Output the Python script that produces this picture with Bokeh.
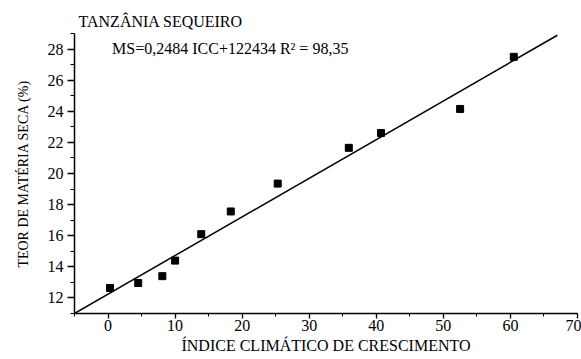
from bokeh.plotting import figure
from bokeh.models import Label, SingleIntervalTicker, Range1d
from bokeh.embed import file_html
from bokeh.resources import INLINE

icc = [0.3, 4.5, 8.1, 10.0, 13.9, 18.3, 25.3, 35.9, 40.7, 52.5, 60.5]
ms = [12.64, 12.96, 13.4, 14.4, 16.1, 17.56, 19.35, 21.65, 22.6, 24.15, 27.5]
slope = 0.2484
intercept = 12.2434
fit_x = [-5, 67]
fit_y = [intercept + slope * v for v in fit_x]

title_text = "TANZÂNIA SEQUEIRO"
eq_text = "MS=0,2484 ICC+122434 R² = 98,35"
x_label = "ÍNDICE CLIMÁTICO DE CRESCIMENTO"
y_label = "TEOR DE MATÉRIA SECA (%)"

FONT = "Liberation Serif"

p = figure(width=581, height=359, output_backend="svg", toolbar_location=None,
           x_range=Range1d(-5, 70), y_range=Range1d(11, 29),
           min_border_left=74, min_border_right=4, min_border_top=33, min_border_bottom=46,
           title=title_text)
p.title.text_font = FONT
p.title.text_font_size = "16px"
p.title.text_font_style = "normal"
p.title.text_color = "black"
p.title.align = "left"
p.title.offset = 4
p.title.standoff = 7

p.outline_line_color = None
p.xgrid.visible = False
p.ygrid.visible = False
p.background_fill_color = "white"
p.border_fill_color = "white"

p.line(fit_x, fit_y, line_color="black", line_width=1.5)
p.scatter(icc, ms, marker="square", size=7, color="black")

for ax in (p.xaxis[0], p.yaxis[0]):
    ax.axis_line_color = "black"
    ax.axis_line_width = 1.5
    ax.major_tick_line_color = "black"
    ax.minor_tick_line_color = "black"
    ax.major_tick_line_width = 1.3
    ax.minor_tick_line_width = 1.0
    ax.major_tick_in = 0
    ax.minor_tick_in = 0
    ax.major_label_text_font = FONT
    ax.major_label_text_font_size = "16px"
    ax.major_label_text_color = "black"
    ax.axis_label_text_font = FONT
    ax.axis_label_text_font_style = "normal"
    ax.axis_label_text_color = "black"

p.xaxis[0].ticker = SingleIntervalTicker(interval=10, num_minor_ticks=2)
p.yaxis[0].ticker = SingleIntervalTicker(interval=2, num_minor_ticks=2)
p.xaxis[0].major_tick_out = 5
p.xaxis[0].minor_tick_out = 3
p.yaxis[0].major_tick_out = 7
p.yaxis[0].minor_tick_out = 4
p.xaxis[0].major_label_standoff = 1
p.yaxis[0].major_label_standoff = 4
p.xaxis[0].axis_label = x_label
p.yaxis[0].axis_label = y_label
p.xaxis[0].axis_label_text_font_size = "16px"
p.yaxis[0].axis_label_text_font_size = "14px"
p.xaxis[0].axis_label_standoff = 3
p.yaxis[0].axis_label_standoff = 14

p.add_layout(Label(x=0.6, y=28.05, text=eq_text, text_font=FONT, text_font_size="16px",
                   text_color="black", text_baseline="middle", text_align="left"))

open("out.html", "w").write(file_html(p, INLINE))
